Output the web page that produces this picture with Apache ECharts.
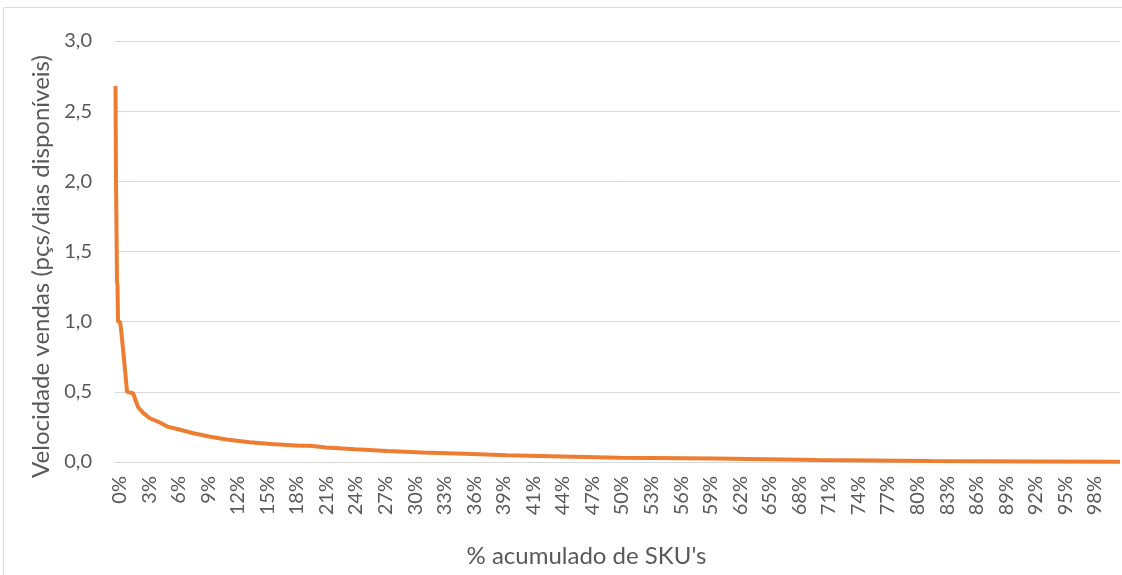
<!DOCTYPE html>
<html>
<head>
<meta charset="utf-8">
<title>Velocidade vendas x % acumulado de SKU's</title>
<script src="https://cdn.jsdelivr.net/npm/echarts@6.0.0/dist/echarts.min.js"></script>
<style>
	html, body { margin: 0; padding: 0; background: #ffffff; }
	#chart { width: 1122px; height: 575px; }
</style>
</head>
<body>
<div id="chart"></div>
<script>
// x = % acumulado de SKU's, y = velocidade vendas (pçs/dias disponíveis)
var headPct = [0.05, 0.1, 0.2, 0.25, 0.3, 0.5, 0.6, 0.9, 1.2, 1.8, 2.3, 2.8, 3.5, 4.5, 5.3, 6.2, 7.8, 9.5, 11.1, 13.4, 15.5, 18.4];
var headVel = [2.68, 2.0, 1.28, 1.26, 1.0, 1.0, 0.95, 0.73, 0.5, 0.49, 0.39, 0.35, 0.31, 0.28, 0.25, 0.235, 0.205, 0.18, 0.16, 0.14, 0.128, 0.116];

// tail is a staircase: each entry is where a step starts
var tailPct = [18.4, 19.4, 21.0, 23.9, 27.1, 30.6, 34.8, 39.0, 44.5, 50.2, 59.7, 69.9, 81.1, 91.5, 100];
var tailVel = [0.116, 0.104, 0.09, 0.078, 0.067, 0.058, 0.048, 0.040, 0.031, 0.025, 0.015, 0.008, 0.004, 0.001, 0.001];

var xTickLabels = ['0%', '3%', '6%', '9%', '12%', '15%', '18%', '21%', '24%', '27%', '30%', '33%',
	'36%', '39%', '41%', '44%', '47%', '50%', '53%', '56%', '59%', '62%', '65%', '68%', '71%',
	'74%', '77%', '80%', '83%', '86%', '89%', '92%', '95%', '98%'];
var yTicks = [0, 0.5, 1.0, 1.5, 2.0, 2.5, 3.0];

var xStep = 100 / xTickLabels.length;
var fontName = 'Lato, "Open Sans", sans-serif';
var textColor = '#595959';
var gridColor = '#D9D9D9';
var lineColor = '#ED7D31';

function pairs(xs, ys) {
	var out = [];
	for (var i = 0; i < xs.length; i++) {
		out.push([xs[i], ys[i]]);
	}
	return out;
}

var myChart = echarts.init(document.getElementById('chart'), null, { renderer: 'canvas' });

var option = {
	animation: false,
	backgroundColor: '#ffffff',
	textStyle: { fontFamily: fontName },
	graphic: [
		{
			type: 'rect',
			shape: { x: 3.5, y: 7.5, width: 1200, height: 600 },
			style: { fill: 'none', stroke: gridColor, lineWidth: 1 },
			silent: true
		}
	],
	grid: { left: 115, right: 2, top: 41, bottom: 113 },
	xAxis: {
		type: 'value',
		min: 0,
		max: 100,
		interval: xStep,
		name: "% acumulado de SKU's",
		nameLocation: 'middle',
		nameGap: 82,
		nameTextStyle: { color: textColor, fontSize: 24, fontFamily: fontName, padding: [0, 62, 0, 0] },
		axisLine: { show: true, lineStyle: { color: gridColor, width: 1 } },
		axisTick: { show: false },
		splitLine: { show: false },
		axisLabel: {
			rotate: 90,
			margin: 14,
			color: textColor,
			fontSize: 20,
			lineHeight: 9,
			fontFamily: fontName,
			// empty first line nudges the rotated label a few px to the right, like the original
			formatter: function (v) {
				var k = Math.round(v / xStep);
				return xTickLabels[k] ? ' \n' + xTickLabels[k] : '';
			}
		}
	},
	yAxis: {
		type: 'value',
		min: yTicks[0],
		max: yTicks[yTicks.length - 1],
		interval: 0.5,
		name: 'Velocidade vendas (pçs/dias disponíveis)',
		nameLocation: 'middle',
		nameRotate: 90,
		nameGap: 61,
		nameTextStyle: { color: textColor, fontSize: 24, fontFamily: fontName, padding: [0, 30, 0, 0] },
		axisLine: { show: false },
		axisTick: { show: false },
		splitLine: { show: true, lineStyle: { color: gridColor, width: 1 } },
		axisLabel: {
			margin: 23,
			color: textColor,
			fontSize: 20,
			fontFamily: fontName,
			formatter: function (v) {
				return v.toFixed(1).replace('.', ',');
			}
		}
	},
	series: [
		{
			name: 'head',
			type: 'line',
			showSymbol: false,
			data: pairs(headPct, headVel),
			lineStyle: { color: lineColor, width: 4 },
			itemStyle: { color: lineColor }
		},
		{
			name: 'tail',
			type: 'line',
			step: 'end',
			showSymbol: false,
			data: pairs(tailPct, tailVel),
			lineStyle: { color: lineColor, width: 4 },
			itemStyle: { color: lineColor }
		}
	]
};

myChart.setOption(option);
</script>
</body>
</html>
